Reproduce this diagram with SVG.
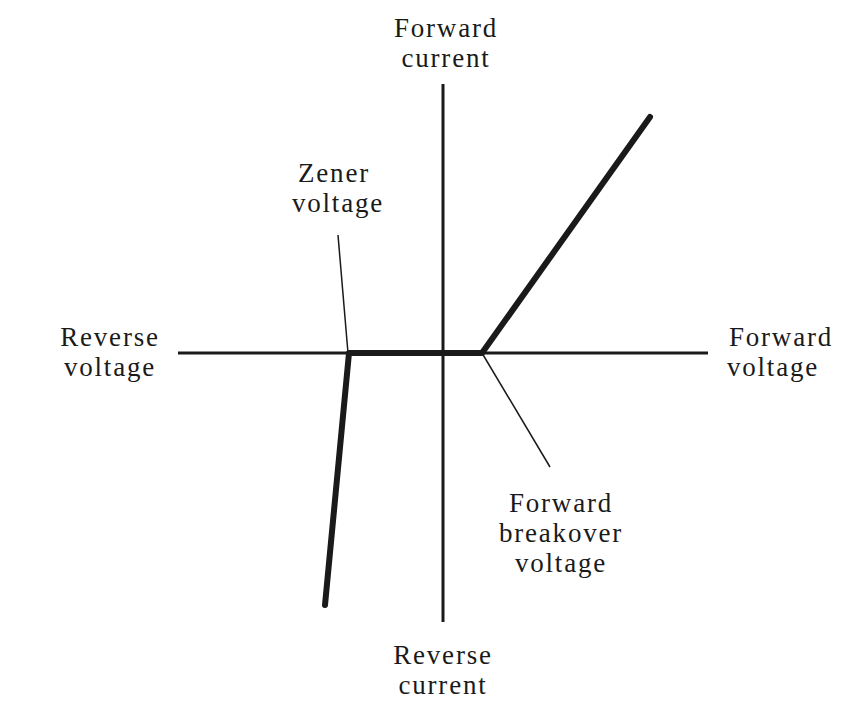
<svg xmlns="http://www.w3.org/2000/svg" width="850" height="705" viewBox="0 0 850 705">
<style>
  .lbl { font-family: "Liberation Serif", "Times New Roman", serif; font-size: 27px; fill: #1a1a1a; letter-spacing: 1.8px; }
  .mid { text-anchor: middle; }
  .axis { stroke: #1a1a1a; stroke-width: 3; fill: none; }
  .curve { stroke: #1a1a1a; stroke-width: 6; fill: none; stroke-linecap: round; stroke-linejoin: round; }
  .leader { stroke: #1a1a1a; stroke-width: 1.5; fill: none; }
</style>
<rect width="850" height="705" fill="#ffffff"/>
<g id="connectors">
  <line class="axis" x1="178" y1="353" x2="708" y2="353"/>
  <line class="axis" x1="443" y1="84" x2="443" y2="622"/>
  <polyline class="curve" points="325,605 349,353 482,353 650,117"/>
  <line class="leader" x1="338" y1="235" x2="348" y2="353"/>
  <line class="leader" x1="482" y1="353" x2="550" y2="467"/>
</g>
<g id="forward-current">
  <text class="lbl mid" x="446" y="37">Forward</text>
  <text class="lbl mid" x="446" y="67">current</text>
</g>
<g id="reverse-current">
  <text class="lbl mid" x="443" y="664">Reverse</text>
  <text class="lbl mid" x="443" y="694">current</text>
</g>
<g id="reverse-voltage">
  <text class="lbl mid" x="110" y="346">Reverse</text>
  <text class="lbl mid" x="110" y="376">voltage</text>
</g>
<g id="forward-voltage">
  <text class="lbl mid" x="781" y="346">Forward</text>
  <text class="lbl mid" x="773" y="376">voltage</text>
</g>
<g id="zener-voltage">
  <text class="lbl mid" x="334" y="182">Zener</text>
  <text class="lbl mid" x="338" y="212">voltage</text>
</g>
<g id="forward-breakover-voltage">
  <text class="lbl mid" x="561" y="512">Forward</text>
  <text class="lbl mid" x="561" y="542">breakover</text>
  <text class="lbl mid" x="561" y="572">voltage</text>
</g>
</svg>
